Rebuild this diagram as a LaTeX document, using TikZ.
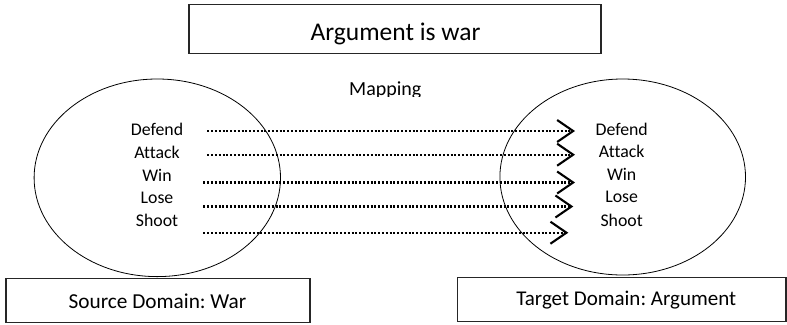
\documentclass[tikz,border=0pt]{standalone}
\usepackage{fontspec}
\setmainfont[Ligatures={NoCommon},Contextuals={NoAlternate}]{Carlito}
\frenchspacing
\usetikzlibrary{shapes.geometric,arrows.meta}
\begin{document}
\begin{tikzpicture}[x=1bp,y=-1bp,
  framebox/.style={draw=black!85,line width=1.2bp,inner sep=0pt},
  domainellipse/.style={ellipse,draw=black,line width=0.8bp,inner sep=0pt},
  itemtext/.style={anchor=base,inner sep=0pt,font=\fontsize{17.8bp}{21bp}\selectfont},
  maplink/.style={line width=2.1bp,dash pattern=on 2.1bp off 1.7bp,
    -{Straight Barb[length=16bp,width=22bp,line width=2.1bp]}}
]
\useasboundingbox (0,0) rectangle (787,324);
% title
\node[framebox,minimum width=412bp,minimum height=49bp] (title) at (395,29) {};
\node[anchor=base,inner sep=0pt,font=\fontsize{25.5bp}{30bp}\selectfont] (titletext) at (395.5,40.5) {Argument is war};
% mapping label (clipped at the bottom as in the reference)
\begin{scope}
\clip (300,70) rectangle (470,96.5);
\node[anchor=base,inner sep=0pt,font=\fontsize{20bp}{24bp}\selectfont] (mapping) at (385.3,95) {Mapping};
\end{scope}
% domains
\node[domainellipse,minimum width=246.4bp,minimum height=197.6bp] (src) at (157.3,177.8) {};
\node[domainellipse,minimum width=245.6bp,minimum height=196bp] (tgt) at (622.7,177) {};
% left items
\node[itemtext] (l1) at (157,135.7) {Defend};
\node[itemtext] (l2) at (157,158.3) {Attack};
\node[itemtext] (l3) at (157,181) {Win};
\node[itemtext] (l4) at (157,203.3) {Lose};
\node[itemtext] (l5) at (157,226) {Shoot};
% right items
\node[itemtext] (r1) at (621.7,135) {Defend};
\node[itemtext] (r2) at (621.7,157.3) {Attack};
\node[itemtext] (r3) at (621.7,180) {Win};
\node[itemtext] (r4) at (621.7,202.7) {Lose};
\node[itemtext] (r5) at (621.7,226) {Shoot};
% connector ends
\coordinate (s1) at (207.3,131);
\coordinate (s2) at (207.3,154.7);
\coordinate (s3) at (203.3,182.5);
\coordinate (s4) at (203.3,206.5);
\coordinate (s5) at (203.3,232.7);
\coordinate (t1) at (575,131);
\coordinate (t2) at (575,154.7);
\coordinate (t3) at (575,182.5);
\coordinate (t4) at (573.3,206.5);
\coordinate (t5) at (568.3,232.7);
\foreach \i in {1,...,5} {\draw[maplink] (s\i) -- (t\i);}
% bottom boxes
\node[framebox,minimum width=304bp,minimum height=44.4bp] (srcbox) at (158,300.5) {};
\node[anchor=base,inner sep=0pt,font=\fontsize{21.3bp}{25bp}\selectfont] (srclabel) at (157.5,308.3) {Source Domain: War};
\node[framebox,minimum width=328.7bp,minimum height=44.4bp] (tgtbox) at (621.6,299.5) {};
\node[anchor=base,inner sep=0pt,font=\fontsize{21bp}{25bp}\selectfont] (tgtlabel) at (626.2,305) {Target Domain: Argument};
\end{tikzpicture}
\end{document}
